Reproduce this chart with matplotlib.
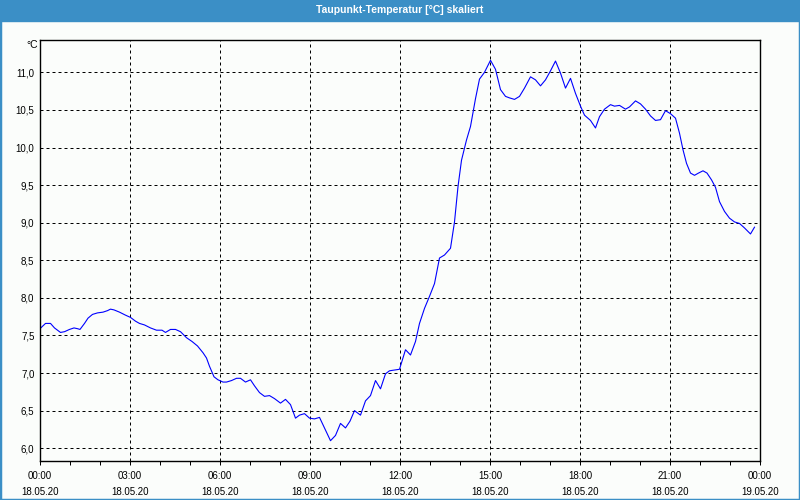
import matplotlib.pyplot as plt
from matplotlib.patches import Rectangle
from matplotlib.ticker import FixedLocator, FuncFormatter

# -----------------------------
# Data (minutes since 18.05.20 00:00, dew point in °C)
# -----------------------------

minutes = [
    0, 11, 21, 29, 41, 49, 59, 68, 75, 80, 89, 96, 105, 115, 126, 135, 141, 148,
    159, 171, 181, 191, 199, 209, 221, 233, 244, 251, 261, 271, 281, 293, 304,
    315, 326, 333, 339, 348, 356, 366, 373, 383, 393, 401, 411, 421, 429, 439,
    449, 459, 469, 481, 491, 501, 511, 519, 529, 539, 549, 559, 571, 581, 591,
    601, 611, 620, 629, 641, 651, 661, 671, 681, 691, 699, 709, 719, 731, 741,
    751, 759, 769, 779, 789, 799, 809, 821, 829, 836, 843, 853, 861, 871, 879,
    889, 901, 911, 921, 931, 939, 949, 959, 969, 981, 991, 1001, 1011, 1021,
    1031, 1041, 1051, 1061, 1071, 1081, 1089, 1101, 1111, 1119, 1129, 1141,
    1149, 1159, 1171, 1179, 1191, 1201, 1211, 1221, 1231, 1241, 1251, 1261,
    1271, 1279, 1286, 1293, 1301, 1309, 1317, 1326, 1334, 1343, 1351, 1359,
    1369, 1379, 1389, 1399, 1409, 1421, 1429,
]

dewpoint = [
    7.59, 7.66, 7.66, 7.60, 7.54, 7.55, 7.58, 7.60, 7.59, 7.58, 7.66, 7.73, 7.78,
    7.80, 7.81, 7.83, 7.85, 7.84, 7.81, 7.77, 7.74, 7.69, 7.66, 7.64, 7.60, 7.57,
    7.57, 7.54, 7.58, 7.58, 7.55, 7.47, 7.42, 7.36, 7.27, 7.20, 7.09, 6.95, 6.91,
    6.88, 6.88, 6.90, 6.93, 6.93, 6.88, 6.91, 6.83, 6.74, 6.69, 6.70, 6.66, 6.60,
    6.65, 6.58, 6.40, 6.44, 6.46, 6.40, 6.39, 6.41, 6.24, 6.10, 6.17, 6.33, 6.27,
    6.36, 6.50, 6.44, 6.63, 6.70, 6.90, 6.79, 6.99, 7.03, 7.04, 7.05, 7.31, 7.24,
    7.42, 7.66, 7.86, 8.02, 8.19, 8.53, 8.57, 8.66, 9.01, 9.48, 9.83, 10.10,
    10.28, 10.65, 10.91, 11.00, 11.16, 11.04, 10.77, 10.68, 10.66, 10.64, 10.68,
    10.79, 10.94, 10.90, 10.82, 10.90, 11.02, 11.15, 10.99, 10.79, 10.92, 10.72,
    10.55, 10.43, 10.36, 10.26, 10.41, 10.51, 10.57, 10.55, 10.56, 10.51, 10.54,
    10.62, 10.58, 10.51, 10.42, 10.36, 10.37, 10.49, 10.45, 10.39, 10.19, 9.97,
    9.79, 9.66, 9.63, 9.66, 9.69, 9.66, 9.57, 9.47, 9.28, 9.15, 9.06, 9.01, 8.99,
    8.93, 8.85, 8.94,
]

time_labels = ["00:00", "03:00", "06:00", "09:00", "12:00", "15:00", "18:00", "21:00", "00:00"]
date_labels = ["18.05.20"] * 8 + ["19.05.20"]
y_ticks = [6.0, 6.5, 7.0, 7.5, 8.0, 8.5, 9.0, 9.5, 10.0, 10.5, 11.0]

TITLE = "Taupunkt-Temperatur [°C] skaliert"
BAR_BLUE = "#3b8fc6"
BG = "#fbfdfb"

plt.rcParams["font.family"] = ["Liberation Sans", "DejaVu Sans"]

# -----------------------------
# Figure
# -----------------------------

fig = plt.figure(figsize=(8, 5), dpi=100, facecolor=BG)
ax = fig.add_axes([40 / 800, 1 - 461 / 500, 720 / 800, 421 / 500])
ax.set_facecolor(BG)

ax.plot(minutes, dewpoint, color="#0000ff", lw=0.8)

ax.set_xlim(0, 1440)
ax.set_ylim(5.83, 11.43)

major_x = [i * 180 for i in range(len(time_labels))]
ax.xaxis.set_major_locator(FixedLocator(major_x))
ax.xaxis.set_minor_locator(FixedLocator([i * 60 for i in range(25)]))
ax.set_xticklabels([f"{t}\n{d}" for t, d in zip(time_labels, date_labels)],
                   fontsize=7, linespacing=1.8)
ax.tick_params(axis="x", which="both", direction="out", length=3, width=0.72, pad=4)

ax.yaxis.set_major_locator(FixedLocator(y_ticks))
ax.yaxis.set_major_formatter(FuncFormatter(lambda v, p: f"{v:.1f}".replace(".", ",")))
ax.tick_params(axis="y", length=0, pad=4, labelsize=7)

ax.grid(True, which="major", color="black", lw=0.72, linestyle=(0, (3, 3)))
for sp in ax.spines.values():
    sp.set_linewidth(1.0)
    sp.set_color("black")

fig.text(38 / 800, 1 - 45 / 500, "°C", ha="right", va="center", fontsize=7.5)

# Title bar and frame
fig.patches.append(Rectangle((0, 1 - 21 / 500), 1, 21 / 500, transform=fig.transFigure,
                             color=BAR_BLUE, zorder=0))
fig.text(0.5, 1 - 10 / 500, TITLE, ha="center", va="center", color="white",
         fontsize=7.5, fontweight="bold")
fig.patches.append(Rectangle((0, 0), 1, 1, transform=fig.transFigure, fill=False,
                             edgecolor=BAR_BLUE, lw=2.5))

fig.savefig("out.png", dpi=100, facecolor=BG)
